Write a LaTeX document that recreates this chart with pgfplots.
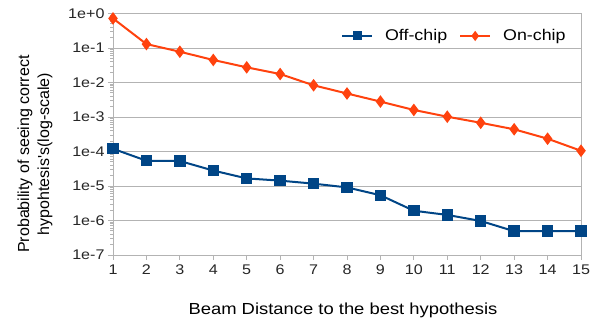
\documentclass[border=0pt]{standalone}
\usepackage{fontspec}
\setmainfont{Liberation Sans}[FakeStretch=1.15]
\newfontfamily\ylabfont{Liberation Sans}
\usepackage{pgfplots}
\pgfplotsset{compat=1.18}
\definecolor{offc}{HTML}{004586}
\definecolor{onc}{HTML}{FF420E}
\definecolor{gridc}{HTML}{B3B3B3}
\begin{document}
\begin{tikzpicture}
\path[use as bounding box] (-113bp,-68bp) rectangle (495bp,255bp);
\begin{axis}[
  scale only axis,
  width=468bp, height=241.5bp,
  ymode=log,
  xmin=1, xmax=15, ymin=1e-7, ymax=1,
  xtick={1,...,15},
  ytick={1e-7,1e-6,1e-5,1e-4,1e-3,1e-2,1e-1,1},
  yticklabels={1e-7,1e-6,1e-5,1e-4,1e-3,1e-2,1e-1,1e+0},
  /pgf/number format/assume math mode=true,
  tick label style={font=\fontsize{14bp}{16bp}\selectfont, color=black!85},
  xticklabel style={yshift=-1bp},
  minor ytick={},
  ymajorgrids,
  major grid style={gridc, line width=0.8bp},
  axis line style={gridc, line width=0.8bp},
  tick style={gridc, line width=0.8bp},
  tick align=outside,
  major tick length=5bp,
  xtick pos=bottom, ytick pos=left,
  xlabel={Beam Distance to the best hypothesis},
  ylabel={Probability of seeing correct\\hypohtesis's(log-scale)},
  every axis x label/.style={at={(axis description cs:0.4915,-0.228)}, anchor=center, font=\fontsize{16bp}{18bp}\selectfont},
  every axis y label/.style={at={(axis description cs:-0.1667,0.418)}, anchor=center, rotate=90, align=center, font=\ylabfont\fontsize{16bp}{20bp}\selectfont},
  legend style={at={(axis description cs:0.976,0.907)}, anchor=east, draw=none, fill=none, font=\fontsize{15.5bp}{17bp}\selectfont, legend columns=2, column sep=10bp, inner sep=2bp},
  legend image code/.code={\draw[#1] (0bp,0bp) -- (30bp,0bp); \draw[#1, mark size=3.5bp] plot coordinates {(15bp,0bp)};},
]
\addplot[offc, line width=2bp, mark=square*, mark size=4.7bp, mark options={solid}] coordinates {
(1,1.2e-4) (2,5.4e-5) (3,5.3e-5) (4,2.8e-5) (5,1.66e-5) (6,1.43e-5) (7,1.17e-5) (8,9.1e-6) (9,5.4e-6) (10,1.92e-6) (11,1.45e-6) (12,9.7e-7) (13,4.9e-7) (14,4.9e-7) (15,4.9e-7)};
\addlegendentry{Off-chip}
\addplot[onc, line width=2bp, mark=diamond*, mark size=4.7bp, mark options={solid}] coordinates {
(1,0.72) (2,0.13) (3,0.078) (4,0.045) (5,0.0275) (6,0.0176) (7,0.0083) (8,0.0048) (9,0.0028) (10,0.0016) (11,0.00102) (12,0.00068) (13,0.00044) (14,0.000235) (15,0.000105)};
\addlegendentry{On-chip}
\end{axis}
\end{tikzpicture}
\end{document}
